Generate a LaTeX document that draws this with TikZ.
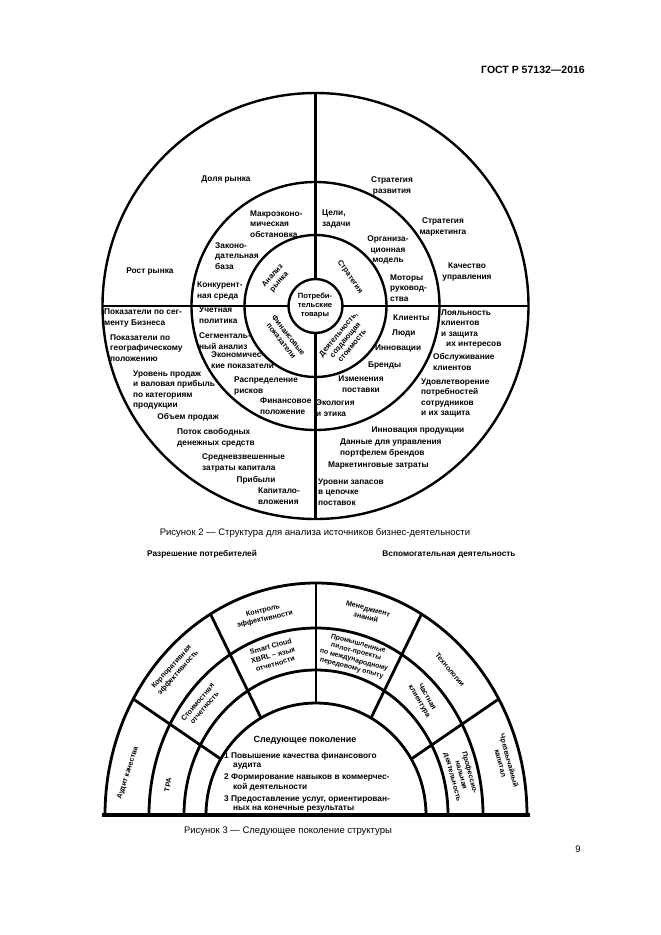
\documentclass[tikz,border=0pt]{standalone}
\usepackage{fontspec}
\setmainfont{Liberation Sans}
\begin{document}
\begin{tikzpicture}[x=1pt,y=-1pt,
  ring/.style={line width=2.4pt},
  bring/.style={line width=2.8pt},
  lbl/.style={font=\bfseries\fontsize{8.3}{10.6}\selectfont, inner sep=0pt, align=center},
  lbll/.style={lbl, align=left},
  slbl/.style={font=\bfseries\fontsize{7.6}{9}\selectfont, inner sep=0pt, align=center},
  blbl/.style={font=\bfseries\fontsize{7.2}{8.8}\selectfont, inner sep=0pt, align=center},
  ilbl/.style={font=\bfseries\fontsize{8.3}{9.2}\selectfont, inner sep=0pt, align=left},
  captxt/.style={font=\fontsize{9.5}{11}\selectfont, inner sep=0pt},
  hdr/.style={font=\bfseries\fontsize{10.5}{12}\selectfont, inner sep=0pt}]
\useasboundingbox[fill=white] (0,0) rectangle (661,935);

\node[hdr, anchor=east] (gost) at (585,70) {ГОСТ Р 57132—2016};

% ---------- Figure 2 ----------
\begin{scope}[shift={(315.5,306)}, y=1pt]
  \draw[ring] (0,0) circle[radius=213];
  \draw[ring] (0,0) circle[radius=124];
  \draw[ring] (0,0) circle[radius=71];
  \draw[ring] (0,0) circle[radius=27];
  \draw[ring] (-213,0) -- (-27,0);
  \draw[ring] (27,0) -- (213,0);
  \draw[ring] (0,213) -- (0,27);
  \draw[ring] (0,-27) -- (0,-213);
\end{scope}

\node[lbl] (dol) at (226,180) {Доля рынка};
\node[lbl] (rost) at (150,272) {Рост рынка};
\node[lbll, anchor=west] (makro) at (250,224) {Макроэконо-\\мическая\\обстановка};
\node[lbll, anchor=west] (zakon) at (215,256) {Законо-\\дательная\\база};
\node[lbll, anchor=west] (konk) at (197,291) {Конкурент-\\ная среда};
\node[slbl, rotate=48] (anal) at (276,279) {Анализ\\рынка};
\node[slbl, rotate=-55] (strat) at (350,277) {Стратегия};
\node[slbl] (potr) at (315,305) {Потреби-\\тельские\\товары};
\node[slbl, rotate=-52] (finp) at (285,338) {Финансовые\\показатели};
\node[slbl, rotate=50] (deyat) at (345,340) {Деятельность,\\создающая\\стоимость};

\node[lbl] (strraz) at (392,186) {Стратегия\\развития};
\node[lbl] (strmark) at (443,227) {Стратегия\\маркетинга};
\node[lbl] (kach) at (467,272) {Качество\\управления};
\node[lbll, anchor=west] (celi) at (322,219) {Цели,\\задачи};
\node[lbl] (org) at (388,250) {Организа-\\ционная\\модель};
\node[lbll, anchor=west] (motor) at (390,288) {Моторы\\руковод-\\ства};

\node[lbll, anchor=west] (pseg) at (104,318) {Показатели по сег-\\менту Бизнеса};
\node[lbll, anchor=west] (pgeo) at (110,348) {Показатели по\\географическому\\положению};
\node[lbll, anchor=west] (urov) at (133,390) {Уровень продаж\\и валовая прибыль\\по категориям\\продукции};
\node[lbl] (obem) at (188,417) {Объем продаж};
\node[lbll, anchor=west] (potok) at (177,438) {Поток свободных\\денежных средств};
\node[lbll, anchor=west] (sredn) at (202,463) {Средневзвешенные\\затраты капитала};
\node[lbl] (prib) at (256,480) {Прибыли};
\node[lbll, anchor=west] (kapit) at (258,496) {Капитало-\\вложения};

\node[lbll, anchor=west] (uchet) at (199,315) {Учетная\\политика};
\node[lbll, anchor=west] (segm) at (199,341) {Сегменталь-\\ный анализ};
\node[lbll, anchor=west] (ekon) at (211,360) {Экономичес-\\кие показатели};
\node[lbll, anchor=west] (rasp) at (234,386) {Распределение\\рисков};
\node[lbll, anchor=west] (finpol) at (260,406) {Финансовое\\положение};

\node[lbll, anchor=west] (klient) at (393,318) {Клиенты};
\node[lbll, anchor=west] (lyudi) at (392,333) {Люди};
\node[lbll, anchor=west] (innov) at (375,348) {Инновации};
\node[lbll, anchor=west] (brend) at (368,365) {Бренды};
\node[lbl] (izm) at (361,384) {Изменения\\поставки};
\node[lbll, anchor=west] (ekol) at (316,408) {Экология\\и этика};

\node[lbll, anchor=west] (loyal) at (441,329) {Лояльность\\клиентов\\и защита\\\hspace*{5pt}их интересов};
\node[lbll, anchor=west] (obsl) at (433,362) {Обслуживание\\клиентов};
\node[lbll, anchor=west] (udov) at (421,398) {Удовлетворение\\потребностей\\сотрудников\\и их защита};
\node[lbl] (innprod) at (418,430) {Инновация продукции};
\node[lbll, anchor=west] (dannye) at (340,448) {Данные для управления\\портфелем брендов};
\node[lbll, anchor=west] (mark) at (328,465) {Маркетинговые затраты};
\node[lbll, anchor=west] (urovz) at (318,492) {Уровни запасов\\в цепочке\\поставок};

\node[captxt] (cap2) at (315,533) {Рисунок 2 — Структура для анализа источников бизнес-деятельности};

% ---------- Figure 3 ----------
\node[lbl] (razr) at (202,554) {Разрешение потребителей};
\node[lbl] (vspom) at (449,554) {Вспомогательная деятельность};

\begin{scope}[shift={(316,815)}, x=1pt, y=1pt]
  \draw[bring] (-211,0) arc[start angle=180, end angle=0, x radius=211, y radius=232];
  \draw[bring] (-167,0) arc[start angle=180, end angle=0, x radius=167, y radius=187];
  \draw[bring] (-132,0) arc[start angle=180, end angle=0, x radius=132, y radius=145];
  \draw[bring] (-110,0) arc[start angle=180, end angle=0, x radius=110, y radius=112];
  \foreach \a in {30,60,90,120,150}
    \draw[bring] ({110*cos(\a)},{112*sin(\a)}) -- ({211*cos(\a)},{232*sin(\a)});
  \draw[line width=4pt] (-214,0) -- (214,0);
\end{scope}

\node[blbl, rotate=13] (kontr) at (264,615) {Контроль\\эффективности};
\node[blbl, rotate=15] (smart) at (273,655) {Smart Cloud\\XBRL – язык\\отчетности};
\node[blbl, rotate=48] (korp) at (175,670) {Корпоративная\\эффективность};
\node[blbl, rotate=50] (stoim) at (201,705) {Стоимостная\\отчетность};
\node[blbl, rotate=72] (audit) at (128,773) {Аудит качества};
\node[blbl, rotate=80] (tpa) at (168,785) {TPA};
\node[blbl, rotate=-15] (menedzh) at (367,613) {Менеджмент\\знаний};
\node[font=\bfseries\fontsize{6.9}{8.4}\selectfont, inner sep=0pt, align=center, rotate=-15] (prom) at (355,656) {Промышленные\\пилот-проекты\\по международному\\передовому опыту};
\node[blbl, rotate=-50] (tehn) at (450,670) {Технологии};
\node[blbl, rotate=-60] (chast) at (423,699) {Частная\\клиентура};
\node[blbl, rotate=-75] (prof) at (461,775) {Профессио-\\нальная\\деятельность};
\node[blbl, rotate=-75] (chrez) at (505,762) {Чрезвычайный\\капитал};

\node[font=\bfseries\fontsize{9}{10}\selectfont, inner sep=0pt] (sled) at (305,740) {Следующее поколение};
\node[ilbl, anchor=west] (it1) at (224,760.5) {1 Повышение качества финансового\\\hspace*{9pt}аудита};
\node[ilbl, anchor=west] (it2) at (224,782.5) {2 Формирование навыков в коммерчес-\\\hspace*{9pt}кой деятельности};
\node[ilbl, anchor=west] (it3) at (224,804) {3 Предоставление услуг, ориентирован-\\\hspace*{9pt}ных на конечные результаты};

\node[captxt] (cap3) at (288,831) {Рисунок 3 — Следующее поколение структуры};
\node[captxt] (pg) at (578,849) {9};
\end{tikzpicture}
\end{document}
